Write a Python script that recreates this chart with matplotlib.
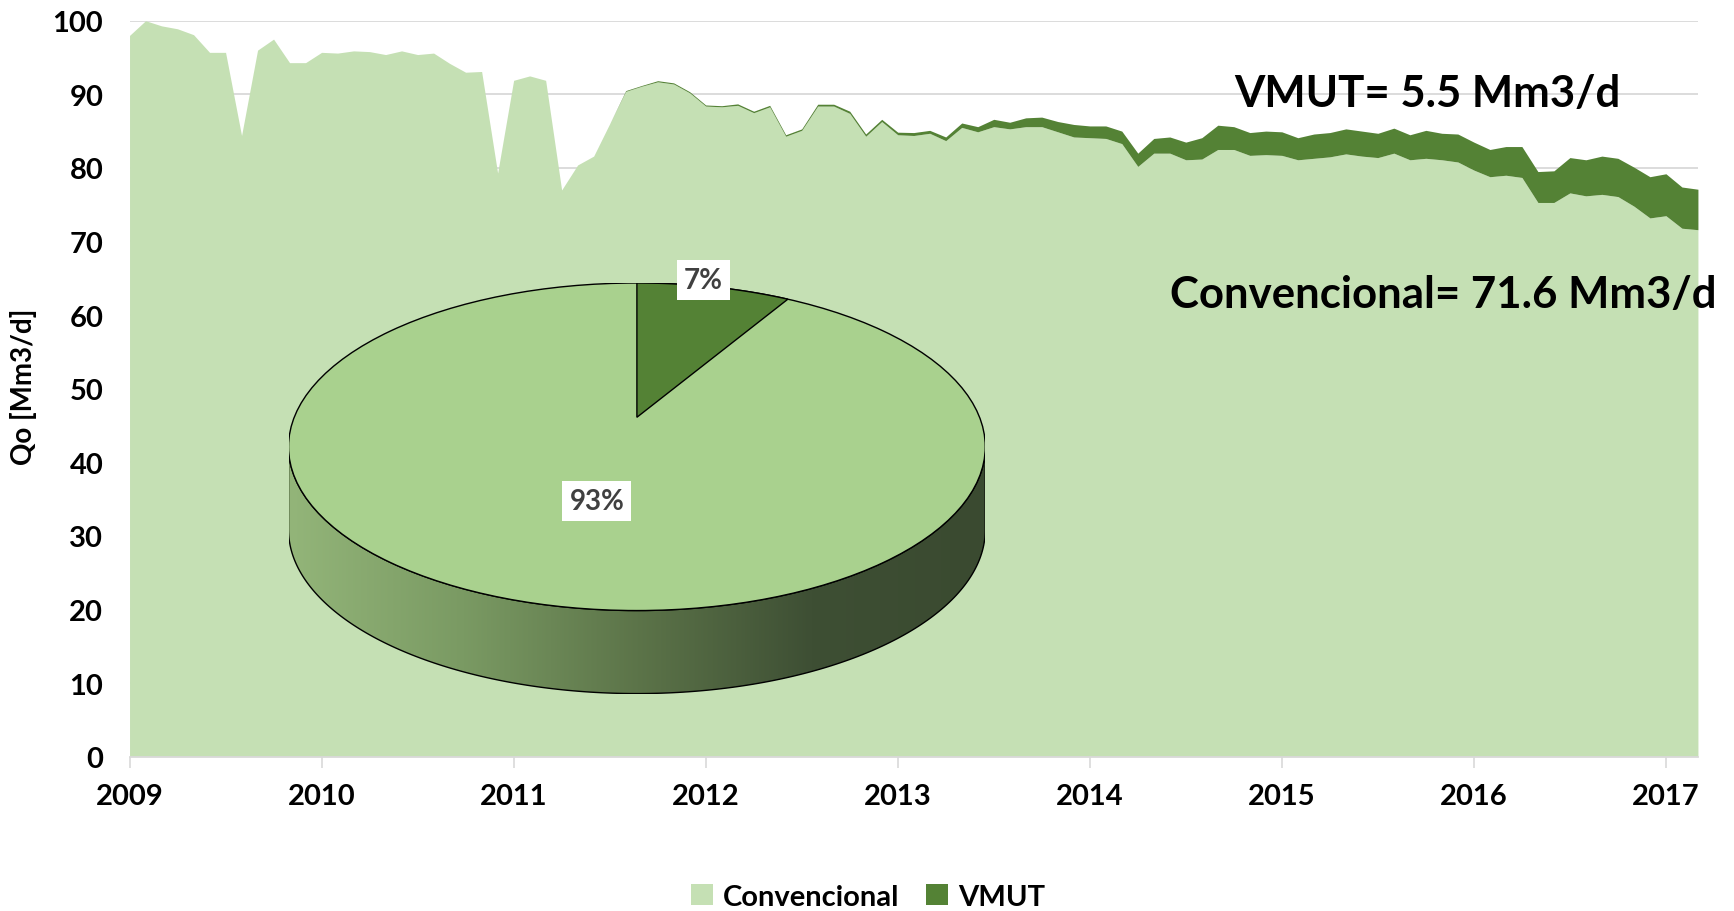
import numpy as np
import matplotlib.pyplot as plt
from matplotlib.patches import Patch, Polygon, Ellipse
from matplotlib.colors import LinearSegmentedColormap

plt.rcParams['font.family'] = ['Lato', 'DejaVu Sans']
plt.rcParams['font.weight'] = 'bold'

# monthly production, Jan 2009 .. Mar 2017 [Mm3/d]
start_year = 2009
conv = [98.0, 100.0, 99.3, 98.9, 98.1, 95.7, 95.7, 84.4, 96.0, 97.5, 94.3, 94.3,
        95.7, 95.6, 95.9, 95.8, 95.4, 95.9, 95.4, 95.6, 94.2, 93.0, 93.1, 79.3,
        91.9, 92.5, 91.9, 77.0, 80.4, 81.6, 86.0, 90.4, 91.1, 91.7, 91.4, 90.2,
        88.4, 88.3, 88.5, 87.5, 88.3, 84.3, 85.1, 88.4, 88.4, 87.4, 84.3, 86.3,
        84.5, 84.4, 84.7, 83.7, 85.5, 84.9, 85.6, 85.3, 85.6, 85.6, 84.9, 84.2,
        84.1, 84.0, 83.3, 80.2, 82.0, 82.0, 81.1, 81.2, 82.5, 82.5, 81.7, 81.8,
        81.7, 81.1, 81.3, 81.5, 81.9, 81.6, 81.4, 82.0, 81.1, 81.3, 81.1, 80.8,
        79.7, 78.8, 79.0, 78.7, 75.3, 75.3, 76.6, 76.2, 76.4, 76.1, 74.8, 73.2,
        73.5, 71.8, 71.6]
vmut = [0.0] * 31 + [0.1, 0.1, 0.15, 0.15, 0.15,
        0.15, 0.15, 0.2, 0.2, 0.2, 0.2, 0.2, 0.25, 0.25, 0.3, 0.3, 0.3,
        0.35, 0.4, 0.4, 0.5, 0.6, 0.7, 1.0, 0.9, 1.2, 1.3, 1.4, 1.7,
        1.6, 1.7, 1.7, 1.8, 2.0, 2.2, 2.4, 2.9, 3.3, 3.1, 3.1, 3.2,
        3.2, 3.0, 3.3, 3.3, 3.4, 3.4, 3.3, 3.4, 3.4, 3.8, 3.6, 3.8,
        3.8, 3.7, 3.9, 4.2, 4.2, 4.3, 4.8, 4.9, 5.2, 5.2, 5.3, 5.6,
        5.7, 5.6, 5.5]
years = list(range(2009, 2018))
series_names = ['Convencional', 'VMUT']

c_light = '#C5E0B4'
c_dark = '#548235'

conv = np.array(conv)
vmut = np.array(vmut)
t = start_year + np.arange(len(conv)) / 12.0

fig = plt.figure(figsize=(17.34, 9.12), dpi=100)
ax = fig.add_axes([0.0747, 0.1693, 0.9045, 0.8069])

ax.fill_between(t, 0, conv, color=c_light, lw=0, zorder=2)
ax.fill_between(t, conv, conv + vmut, color=c_dark, lw=0, zorder=2)

ax.set_xlim(t[0], t[-1])
ax.set_ylim(0, 100)
ax.set_yticks(range(0, 101, 10))
ax.set_xticks(years)
ax.set_xticklabels([str(y) for y in years])
ax.grid(axis='y', color='#d9d9d9', lw=1.3, zorder=0)
for s in ['top', 'right', 'left']:
    ax.spines[s].set_visible(False)
ax.spines['bottom'].set_color('#d9d9d9')
ax.spines['bottom'].set_linewidth(1.3)
ax.tick_params(axis='y', length=0, pad=19, labelsize=21)
ax.tick_params(axis='x', length=8, width=1.2, color='#d9d9d9', pad=11, labelsize=21)
for lab in ax.get_xticklabels() + ax.get_yticklabels():
    lab.set_fontweight('bold')

fig.text(24 / 1734, 1 - 387 / 912, 'Qo [Mm3/d]', rotation=90, ha='center',
         va='center', fontsize=20, fontweight='bold')

ax.text(2015.76, 90.2, f'VMUT= {vmut[-1]:.1f} Mm3/d', ha='center', va='center',
        fontsize=31.5, fontweight='bold', zorder=5)
ax.text(2015.84, 62.9, f'Convencional= {conv[-1]:.1f} Mm3/d', ha='center',
        va='center', fontsize=31.5, fontweight='bold', zorder=5)

# 3D-looking pie of the last month's split
share = np.array([conv[-1], vmut[-1]]) / (conv[-1] + vmut[-1])
depth = 0.507
pax = fig.add_axes([0.1664, 0.2384, 0.4018, 0.4502])
pax.set_xlim(-1, 1)
pax.set_ylim(-1 - depth, 1)
pax.axis('off')
pax.patch.set_alpha(0)

th = np.linspace(np.pi, 2 * np.pi, 200)
side = np.concatenate([
    np.column_stack([np.cos(th), np.sin(th) - depth]),
    np.column_stack([np.cos(th[::-1]), np.sin(th[::-1])]),
])
side_patch = Polygon(side, closed=True, fc='none', ec='black', lw=1.0, zorder=3)
pax.add_patch(side_patch)
cmap = LinearSegmentedColormap.from_list(
    'side', ['#93B579', '#7A9A63', '#5C7449', '#3E4F34', '#3A4A30'])
grad = np.linspace(0, 1, 256).reshape(1, -1)
im = pax.imshow(grad, extent=[-1, 1, -1 - depth, 0], cmap=cmap, aspect='auto',
                zorder=2, interpolation='bilinear')
im.set_clip_path(side_patch)

pax.add_patch(Ellipse((0, 0), 2, 2, fc='#A9D18E', ec='black', lw=1.0, zorder=4))

apex_y = 0.18
a0 = np.pi / 2
a1 = a0 - share[1] * 2 * np.pi
arc = np.linspace(a0, a1, 60)
wedge = np.vstack([[0, apex_y], np.column_stack([np.cos(arc), np.sin(arc)])])
pax.add_patch(Polygon(wedge, closed=True, fc=c_dark, ec='black', lw=1.0, zorder=5))

box = dict(boxstyle='square,pad=0.25', fc='white', ec='none')
pax.text(0.19, 1.02, f'{share[1] * 100:.0f}%', ha='center', va='center',
         fontsize=20, fontweight='bold', color='#404040', bbox=box, zorder=6)
pax.text(-0.115, -0.33, f'{share[0] * 100:.0f}%', ha='center', va='center',
         fontsize=20, fontweight='bold', color='#404040', bbox=box, zorder=6)

handles = [Patch(fc=c_light, ec='none'), Patch(fc=c_dark, ec='none')]
fig.legend(handles, series_names, loc='center', bbox_to_anchor=(0.5006, 0.0154),
           ncol=2, frameon=False, handlelength=0.75, handleheight=0.75,
           handletextpad=0.35, columnspacing=0.9,
           prop={'weight': 'bold', 'size': 21})

fig.savefig('out.png', dpi=100)
